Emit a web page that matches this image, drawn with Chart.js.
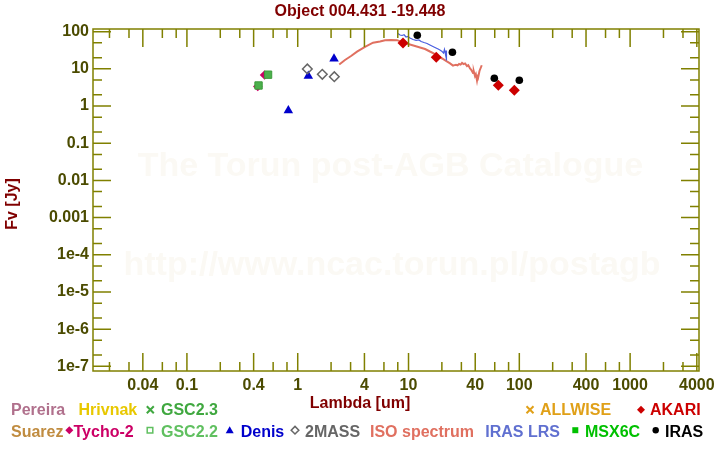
<!DOCTYPE html>
<html><head><meta charset="utf-8">
<script src="https://cdn.jsdelivr.net/npm/chart.js@4/dist/chart.umd.min.js"></script>
<style>html,body{margin:0;padding:0;background:#fff}canvas{display:block}</style>
</head><body>
<canvas id="c" width="720" height="450"></canvas>
<script>
// ---- texts ----
const titleText = 'Object 004.431 -19.448';
const xTitle = 'Lambda [um]';
const yTitle = 'Fv [Jy]';
const watermarkLines = ['The Torun post-AGB Catalogue', 'http://www.ncac.torun.pl/postagb'];

// ---- ticks ----
const xMajorTicks = [0.04, 0.1, 0.4, 1, 4, 10, 40, 100, 400, 1000, 4000];
const xTickLabels = ['0.04', '0.1', '0.4', '1', '4', '10', '40', '100', '400', '1000', '4000'];
const xMinorTicks = [0.02, 0.03, 0.06, 0.08, 0.2, 0.3, 0.6, 0.8, 2, 3, 6, 8, 20, 30, 60, 80, 200, 300, 600, 800, 2000, 3000];
const yMajorTicks = [1e-7, 1e-6, 1e-5, 1e-4, 0.001, 0.01, 0.1, 1, 10, 100];
const yTickLabels = ['1e-7', '1e-6', '1e-5', '1e-4', '0.001', '0.01', '0.1', '1', '10', '100'];
const yMinorTicks = [2e-7, 5e-7, 2e-6, 5e-6, 2e-5, 5e-5, 2e-4, 5e-4, 0.002, 0.005, 0.02, 0.05, 0.2, 0.5, 2, 5, 20, 50];
const xMin = 0.0142, xMax = 4185;
const yMin = 7.48e-8, yMax = 118;

// ---- series ----
const isoLambda = [2.37, 2.67, 3.03, 3.43, 4.05, 4.78, 5.53, 6.14, 6.95, 7.88, 8.92, 10.3, 11.45, 12.7, 14.1, 15.6, 17.0, 18.5, 20.1, 21.8, 23.7, 25.2, 26.0, 26.8, 27.7, 28.6, 29.5, 30.4, 31.4, 32.4, 33.7, 34.6, 35.9, 36.8, 38.2, 38.8, 39.8, 40.5, 41.5, 42.0, 42.4, 43.7, 45.8];
const isoFlux   = [13.1, 17.3, 22.2, 29.0, 38.8, 50.6, 54.6, 58.7, 59.8, 59.1, 51.2, 45.3, 41.2, 37.6, 34.2, 29.3, 25.9, 21.5, 19.0, 16.3, 14.0, 12.2, 12.6, 12.9, 12.4, 13.5, 13.0, 14.4, 13.4, 14.0, 11.9, 12.6, 10.2, 9.4, 7.75, 8.6, 6.44, 7.2, 4.87, 6.0, 5.68, 8.77, 12.5];
const lrsLambda = [7.96, 8.38, 8.74, 9.11, 9.49, 9.90, 10.3, 11.0, 11.7, 12.4, 13.0, 13.8, 14.7, 15.6, 16.6, 17.7, 18.5, 19.2, 20.1, 20.7, 21.1, 21.6, 21.8, 22.0];
const lrsFlux   = [90.6, 81.5, 79.0, 82.5, 72.0, 74.3, 67.7, 61.7, 58.7, 59.8, 54.5, 51.2, 48.2, 43.9, 40.0, 36.4, 34.2, 32.2, 29.3, 26.7, 33.2, 23.6, 31.2, 16.8];
const tychoLambda = [0.502, 0.436];
const tychoFlux   = [6.85, 3.36];
const gsc22Lambda = [0.540, 0.443];
const gsc22Flux   = [6.97, 3.57];
const denisLambda = [0.823, 1.246, 2.126];
const denisFlux   = [0.764, 6.40, 18.8];
const twoMassLambda = [1.221, 1.667, 2.139];
const twoMassFlux   = [9.93, 7.15, 6.16];
const akariLambda = [8.92, 17.8, 64.6, 90.1];
const akariFlux   = [49.7, 20.5, 3.62, 2.65];
const irasLambda = [12.0, 24.9, 59.5, 100];
const irasFlux   = [80.0, 27.9, 5.58, 4.93];

// ---- legend entries ----
const legendNames = ['Pereira', 'Hrivnak', 'GSC2.3', 'ALLWISE', 'AKARI', 'Suarez', 'Tycho-2', 'GSC2.2', 'Denis', '2MASS', 'ISO spectrum', 'IRAS LRS', 'MSX6C', 'IRAS'];

const zip = (a, b) => a.map((v, i) => ({x: v, y: b[i]}));
const FONT = '"Liberation Sans", Arial, Helvetica, sans-serif';

// legend layout (text left x, row, symbol, symbol x, colour)
const legendLayout = {
  'Pereira':      {tx: 11,    row: 0, color: '#b0708c'},
  'Hrivnak':      {tx: 78.5,  row: 0, color: '#e8c800'},
  'GSC2.3':       {tx: 161,   row: 0, color: '#40a840', sym: 'cross', sx: 150.3},
  'ALLWISE':      {tx: 540,   row: 0, color: '#e0a018', sym: 'cross', sx: 530},
  'AKARI':        {tx: 650,   row: 0, color: '#cc0000', sym: 'diamond', sx: 641},
  'Suarez':       {tx: 11,    row: 1, color: '#c08c40'},
  'Tycho-2':      {tx: 73.5,  row: 1, color: '#cc0066', sym: 'diamond', sx: 69.3},
  'GSC2.2':       {tx: 161,   row: 1, color: '#60c060', sym: 'osquare', sx: 150},
  'Denis':        {tx: 240.7, row: 1, color: '#0000cc', sym: 'triangle', sx: 229.7},
  '2MASS':        {tx: 305,   row: 1, color: '#666666', sym: 'odiamond', sx: 295},
  'ISO spectrum': {tx: 370,   row: 1, color: '#e07060'},
  'IRAS LRS':     {tx: 485.3, row: 1, color: '#6070d0'},
  'MSX6C':        {tx: 585,   row: 1, color: '#00c000', sym: 'square', sx: 575.3},
  'IRAS':         {tx: 665,   row: 1, color: '#000000', sym: 'circle', sx: 655.7}
};

function drawSym(ctx, sym, x, y, color) {
  ctx.save();
  ctx.fillStyle = color; ctx.strokeStyle = color;
  ctx.beginPath();
  if (sym === 'cross') {
    ctx.lineWidth = 2;
    ctx.moveTo(x - 3.5, y - 3.5); ctx.lineTo(x + 3.5, y + 3.5);
    ctx.moveTo(x + 3.5, y - 3.5); ctx.lineTo(x - 3.5, y + 3.5);
    ctx.stroke();
  } else if (sym === 'diamond') {
    ctx.moveTo(x, y - 4); ctx.lineTo(x + 4, y); ctx.lineTo(x, y + 4); ctx.lineTo(x - 4, y); ctx.closePath(); ctx.fill();
  } else if (sym === 'odiamond') {
    ctx.lineWidth = 1.5;
    ctx.moveTo(x, y - 3.8); ctx.lineTo(x + 3.8, y); ctx.lineTo(x, y + 3.8); ctx.lineTo(x - 3.8, y); ctx.closePath(); ctx.stroke();
  } else if (sym === 'osquare') {
    ctx.lineWidth = 1.5;
    ctx.rect(x - 2.8, y - 2.8, 5.6, 5.6); ctx.stroke();
  } else if (sym === 'square') {
    ctx.rect(x - 3, y - 3, 6, 6); ctx.fill();
  } else if (sym === 'triangle') {
    ctx.moveTo(x, y - 4); ctx.lineTo(x + 4, y + 3); ctx.lineTo(x - 4, y + 3); ctx.closePath(); ctx.fill();
  } else if (sym === 'circle') {
    ctx.arc(x, y, 3.2, 0, Math.PI * 2); ctx.fill();
  }
  ctx.restore();
}

const frameColor = '#808000';
const decorPlugin = {
  id: 'decor',
  beforeDatasetsDraw(chart) {
    const ctx = chart.ctx;
    ctx.save();
    ctx.fillStyle = '#fbf9f4';
    ctx.font = 'bold 34px ' + FONT;
    ctx.textAlign = 'center';
    ctx.textBaseline = 'alphabetic';
    ctx.fillText(watermarkLines[0], 390.5, 176);
    ctx.fillText(watermarkLines[1], 392, 275);
    ctx.restore();
  },
  afterDraw(chart) {
    const ctx = chart.ctx;
    const a = chart.chartArea;
    const xs = chart.scales.x, ys = chart.scales.y;
    ctx.save();
    ctx.strokeStyle = frameColor;
    ctx.lineWidth = 1.5;
    ctx.strokeRect(a.left, a.top, a.right - a.left, a.bottom - a.top);
    ctx.beginPath();
    const xt = (v, L) => {
      const p = xs.getPixelForValue(v);
      ctx.moveTo(p, a.bottom); ctx.lineTo(p, a.bottom - L);
      ctx.moveTo(p, a.top); ctx.lineTo(p, a.top + L);
    };
    const yt = (v, L) => {
      const p = ys.getPixelForValue(v);
      ctx.moveTo(a.left, p); ctx.lineTo(a.left + L, p);
      ctx.moveTo(a.right, p); ctx.lineTo(a.right - L, p);
    };
    xMajorTicks.forEach(v => xt(v, 18));
    xMinorTicks.forEach(v => xt(v, 9));
    yMajorTicks.forEach(v => yt(v, 18));
    yMinorTicks.forEach(v => yt(v, 9));
    ctx.stroke();

    // title and axis titles
    ctx.fillStyle = '#800000';
    ctx.font = 'bold 16px ' + FONT;
    ctx.textAlign = 'center';
    ctx.textBaseline = 'middle';
    ctx.fillText(titleText, 360, 12);
    ctx.fillText(xTitle, 360, 404);
    ctx.save();
    ctx.translate(13, 204);
    ctx.rotate(-Math.PI / 2);
    ctx.fillText(yTitle, 0, 0);
    ctx.restore();

    // legend
    ctx.textAlign = 'left';
    ctx.textBaseline = 'alphabetic';
    legendNames.forEach(name => {
      const it = legendLayout[name];
      const base = it.row === 0 ? 415 : 436.5;
      const symY = it.row === 0 ? 409.7 : 430.2;
      if (it.sym) drawSym(ctx, it.sym, it.sx, symY, it.color);
      ctx.fillStyle = it.color;
      ctx.fillText(name, it.tx, base);
    });
    ctx.restore();
  }
};

const tickFont = {family: FONT, size: 16, weight: 'bold'};

new Chart(document.getElementById('c'), {
  type: 'scatter',
  data: {
    datasets: [
      {label: 'ISO spectrum', data: zip(isoLambda, isoFlux), showLine: true, borderColor: '#e07060', backgroundColor: '#e07060', borderWidth: 2, pointRadius: 0, tension: 0, fill: false, order: 10},
      {label: 'IRAS LRS', data: zip(lrsLambda, lrsFlux), showLine: true, borderColor: '#4a5ee0', backgroundColor: '#4a5ee0', borderWidth: 1.2, pointRadius: 0, tension: 0, fill: false, order: 9},
      {label: 'Tycho-2', data: zip(tychoLambda, tychoFlux), pointStyle: 'rectRot', pointRadius: 4.8, backgroundColor: '#cc0066', borderColor: '#cc0066', borderWidth: 0, order: 8},
      {label: 'GSC2.2', data: zip(gsc22Lambda, gsc22Flux), pointStyle: 'rect', pointRadius: 5.2, backgroundColor: '#4cb04c', borderColor: '#3c9c3c', borderWidth: 1, order: 7},
      {label: 'Denis', data: zip(denisLambda, denisFlux), pointStyle: 'triangle', pointRadius: 5.5, backgroundColor: '#0000cc', borderColor: '#0000cc', borderWidth: 0, order: 6},
      {label: '2MASS', data: zip(twoMassLambda, twoMassFlux), pointStyle: 'rectRot', pointRadius: 4.8, backgroundColor: 'rgba(0,0,0,0)', borderColor: '#666666', borderWidth: 1.5, order: 5},
      {label: 'AKARI', data: zip(akariLambda, akariFlux), pointStyle: 'rectRot', pointRadius: 5.5, backgroundColor: '#cc0000', borderColor: '#cc0000', borderWidth: 0, order: 4},
      {label: 'IRAS', data: zip(irasLambda, irasFlux), pointStyle: 'circle', pointRadius: 3.8, backgroundColor: '#000000', borderColor: '#000000', borderWidth: 0, order: 3}
    ]
  },
  options: {
    responsive: false,
    animation: false,
    devicePixelRatio: 1,
    layout: {padding: {left: 0, top: 29, right: 21, bottom: 0}, autoPadding: false},
    plugins: {legend: {display: false}, tooltip: {enabled: false}, title: {display: false}},
    scales: {
      x: {
        type: 'logarithmic', position: 'bottom', min: xMin, max: xMax,
        afterBuildTicks(s) {
          s.ticks = [...xMinorTicks, ...xMajorTicks].sort((p, q) => p - q).map(v => ({value: v}));
        },
        afterFit(s) { s.height = 79; },
        grid: {display: false, drawTicks: false},
        border: {display: false},
        ticks: {
          autoSkip: false, maxRotation: 0, minRotation: 0, padding: 5, color: '#4b4b00', font: tickFont,
          callback(v) { const i = xMajorTicks.indexOf(v); return i >= 0 ? xTickLabels[i] : ''; }
        }
      },
      y: {
        type: 'logarithmic', position: 'left', min: yMin, max: yMax,
        afterBuildTicks(s) {
          s.ticks = [...yMinorTicks, ...yMajorTicks].sort((p, q) => p - q).map(v => ({value: v}));
        },
        afterFit(s) { s.width = 93; },
        grid: {display: false, drawTicks: false},
        border: {display: false},
        ticks: {
          autoSkip: false, padding: 4, color: '#4b4b00', font: tickFont,
          callback(v) { const i = yMajorTicks.indexOf(v); return i >= 0 ? yTickLabels[i] : ''; }
        }
      }
    }
  },
  plugins: [decorPlugin]
});
</script>
</body></html>
